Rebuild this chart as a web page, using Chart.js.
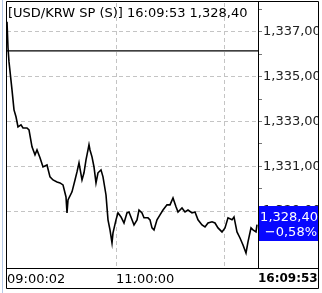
<!DOCTYPE html>
<html>
<head>
<meta charset="utf-8">
<script src="https://cdn.jsdelivr.net/npm/chart.js@4/dist/chart.umd.min.js"></script>
<style>
  html, body { margin: 0; padding: 0; background: #fff; }
  #wrap { width: 322px; height: 293px; }
</style>
</head>
<body>
<div id="wrap"><canvas id="chart" width="322" height="293"></canvas></div>
<script>
// ─── Data ─────────────────────────────────────────────────────────────────────
const title      = '[USD/KRW SP (S)] 16:09:53 1,328,40';
const prevClose  = 1336.15;
const lastPrice  = 1328.40;
const changePct  = -0.58;
const lastTime   = '16:09:53';

// tick slots (intraday bar index) and price at each
const slots = [
  0, 1, 2, 5, 7, 9, 11, 14, 16, 20, 22, 25, 28, 30, 33, 36, 40, 43, 46, 50,
  53, 56, 59, 60, 61, 65, 68, 70, 72, 75, 77, 79, 81, 82, 83, 85, 87, 89, 91, 94,
  96, 99, 101, 103, 105, 106, 109, 111, 114, 117, 120, 122, 125, 127, 130, 132, 135, 137, 141, 143,
  145, 147, 150, 153, 156, 160, 163, 166, 169, 171, 175, 178, 181, 185, 188, 191, 195, 198, 201, 205,
  208, 211, 215, 218, 221, 225, 227, 230, 233, 236, 239, 241, 244, 246, 249, 250
];
const prices = [
  1337.45, 1336.29, 1335.66, 1334.41, 1333.52, 1333.21, 1332.76, 1332.85, 1332.71, 1332.71,
  1332.63, 1331.87, 1331.51, 1331.73, 1331.38, 1330.97, 1331.06, 1330.53, 1330.39, 1330.30,
  1330.26, 1330.17, 1329.63, 1328.92, 1329.50, 1329.86, 1330.39, 1330.75, 1331.15, 1330.39,
  1330.71, 1331.29, 1331.73, 1331.96, 1331.73, 1331.42, 1330.97, 1330.26, 1330.71, 1330.84,
  1330.53, 1329.72, 1328.61, 1328.16, 1327.58, 1328.03, 1328.61, 1328.92, 1328.74, 1328.47,
  1328.92, 1328.96, 1328.61, 1328.38, 1328.61, 1329.05, 1328.92, 1328.70, 1328.70, 1328.61,
  1328.25, 1328.16, 1328.61, 1328.83, 1329.05, 1329.28, 1329.28, 1329.59, 1329.19, 1328.96,
  1329.14, 1328.96, 1329.05, 1328.92, 1328.96, 1328.61, 1328.38, 1328.29, 1328.47, 1328.52,
  1328.47, 1328.25, 1328.07, 1328.25, 1328.70, 1328.61, 1328.74, 1328.07, 1327.80, 1327.49,
  1327.13, 1327.63, 1328.25, 1328.16, 1328.07, 1328.40
];

// bottom axis
const timeSlots  = [0, 109, 217, 251];
const timeLabels = ['09:00:02', '11:00:00', '', ''];
const gridSlots  = [109, 217];

// right axis
const yMin = 1326.46;
const yMax = 1338.29;
const yTicks = [1328, 1329, 1330, 1331, 1332, 1333, 1334, 1335, 1336, 1337, 1338];

// ─── Helpers ──────────────────────────────────────────────────────────────────
const FONT = '"DejaVu Sans", sans-serif';

function fmtKrw(v) {
  return v.toLocaleString('en-US', { minimumFractionDigits: 2, maximumFractionDigits: 2 })
    .replace(/\.(\d\d)$/, ',$1');
}

function noPad(axis) {
  axis.paddingTop = 0; axis.paddingBottom = 0;
  axis.paddingLeft = 0; axis.paddingRight = 0;
}

// ─── Overlay: header, price box, frame ────────────────────────────────────────
const overlay = {
  id: 'overlay',
  afterDraw(chart) {
    const { ctx, chartArea: a } = chart;
    ctx.save();

    // header inside plot, clipped at the plot's right edge
    ctx.save();
    ctx.beginPath();
    ctx.rect(a.left, a.top, a.right - a.left, a.bottom - a.top);
    ctx.clip();
    ctx.fillStyle = '#000';
    ctx.font = '13px ' + FONT;
    ctx.textBaseline = 'middle';
    ctx.textAlign = 'left';
    ctx.fillText(title, 8, 14);
    ctx.restore();

    // current price box
    const yPx = Math.round(chart.scales.y.getPixelForValue(lastPrice));
    ctx.fillStyle = '#0808ff';
    ctx.fillRect(258, yPx - 19, 61, 35);
    ctx.fillStyle = '#fff';
    ctx.font = '13px ' + FONT;
    ctx.textAlign = 'right';
    ctx.textBaseline = 'middle';
    ctx.fillText(fmtKrw(lastPrice), 318, yPx - 7);
    ctx.fillText('\u2212' + fmtKrw(Math.abs(changePct)) + '%', 317, yPx + 8);

    // last time, bold, in the right panel
    ctx.fillStyle = '#000';
    ctx.font = 'bold 12px ' + FONT;
    ctx.textAlign = 'left';
    ctx.fillText(lastTime, 258, 279);

    // clip right overflow of axis labels
    ctx.fillStyle = '#fff';
    ctx.fillRect(319, 0, 3, 293);

    // frame
    ctx.strokeStyle = '#000';
    ctx.lineWidth = 1;
    ctx.beginPath();
    ctx.rect(6.5, 1.5, 312, 287);
    ctx.moveTo(a.right + 0.5, 1.5);  ctx.lineTo(a.right + 0.5, a.bottom);
    ctx.moveTo(6.5, a.bottom + 0.5); ctx.lineTo(318.5, a.bottom + 0.5);
    ctx.stroke();

    ctx.strokeStyle = '#b4c8e6';
    ctx.beginPath();
    ctx.moveTo(2.5, 0); ctx.lineTo(2.5, 293);
    ctx.stroke();

    ctx.restore();
  }
};

// ─── Chart ────────────────────────────────────────────────────────────────────
new Chart(document.getElementById('chart'), {
  type: 'line',
  data: {
    datasets: [
      {
        label: 'USD/KRW',
        data: slots.map((s, i) => ({ x: s, y: prices[i] })),
        borderColor: '#000',
        borderWidth: 1.6,
        pointRadius: 0,
        tension: 0,
      },
      {
        label: 'Prev close',
        data: [{ x: 0, y: prevClose }, { x: 251, y: prevClose }],
        borderColor: '#000',
        borderWidth: 1.2,
        pointRadius: 0,
      }
    ]
  },
  options: {
    responsive: false,
    animation: false,
    events: [],
    layout: { padding: { left: 7, top: 3, right: 0, bottom: 0 } },
    plugins: { legend: { display: false }, tooltip: { enabled: false } },
    scales: {
      x: {
        type: 'linear', min: 0, max: 251,
        afterBuildTicks: axis => { axis.ticks = timeSlots.map(v => ({ value: v })); },
        afterFit: axis => { axis.height = 25; noPad(axis); },
        grid: {
          drawTicks: false,
          color: c => gridSlots.includes(c.tick && c.tick.value) ? '#c4c4c4' : 'rgba(0,0,0,0)',
        },
        border: { display: false, dash: [4, 3] },
        ticks: {
          autoSkip: false, maxRotation: 0, align: 'start', padding: 4,
          color: '#000', font: { family: FONT, size: 13 },
          callback: (v, i) => timeLabels[i],
        }
      },
      y: {
        position: 'right', min: yMin, max: yMax,
        afterBuildTicks: axis => { axis.ticks = yTicks.map(v => ({ value: v })); },
        afterFit: axis => { axis.width = 64; noPad(axis); },
        grid: {
          color: c => (c.tick && c.tick.value % 2 === 1) ? '#c4c4c4' : 'rgba(0,0,0,0)',
          tickColor: '#777',
          tickLength: 4,
          tickBorderDash: [],
        },
        border: { display: false, dash: [4, 3] },
        ticks: {
          padding: 1, color: '#222', font: { family: FONT, size: 13 },
          callback: v => (v % 2 === 1 ? fmtKrw(v) : ''),
        }
      }
    }
  },
  plugins: [overlay]
});
</script>
</body>
</html>
